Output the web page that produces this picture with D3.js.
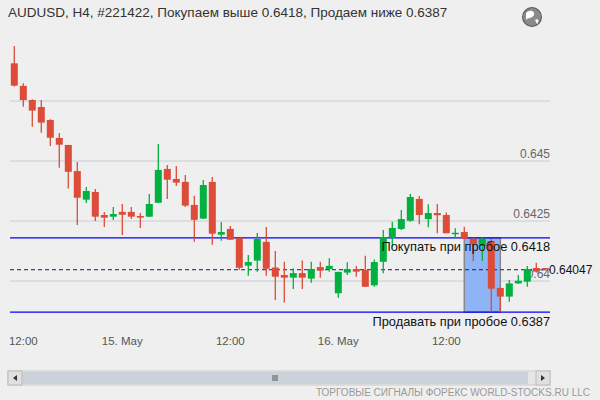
<!DOCTYPE html><html><head><meta charset="utf-8"><script src="https://d3js.org/d3.v7.min.js"></script>
<style>body{margin:0;background:#efefef}svg{font-family:Arial,"Liberation Sans",sans-serif}</style></head><body>
<svg id="c" width="600" height="400"></svg>
<script>
const opens=[.64907,.64813,.64754,.64725,.64671,.64596,.64567,.64458,.64339,.64371,.64275,.64268,.64288,.64288,.64271,.64268,.64326,.64467,.64425,.64413,.64317,.64260,.64413,.64193,.64217,.64179,.64064,.64085,.64163,.64056,.64025,.64014,.64033,.64010,.64058,.64050,.63949,.64035,.64050,.64046,.63982,.64080,.64180,.64217,.64251,.64342,.64258,.64283,.64275,.64195,.64204,.64176,.64146,.64167,.63971,.63935,.63990,.63997,.64054,.64054];
const highs=[.64979,.64824,.64757,.64754,.64674,.64617,.64567,.64496,.64392,.64383,.64288,.64308,.64321,.64308,.64283,.64363,.64571,.64483,.64479,.64442,.64355,.64421,.64433,.64246,.64229,.64180,.64108,.64200,.64225,.64125,.64080,.64053,.64085,.64080,.64080,.64095,.64039,.64078,.64063,.64105,.64090,.64213,.64247,.64296,.64363,.64354,.64320,.64321,.64285,.64220,.64226,.64180,.64182,.64175,.63974,.64004,.64025,.64063,.64076,.64054];
const lows=[.64810,.64726,.64643,.64618,.64563,.64472,.64385,.64233,.64325,.64250,.64225,.64254,.64192,.64258,.64221,.64267,.64325,.64342,.64396,.64308,.64164,.64258,.64151,.64168,.64171,.64047,.64022,.64039,.64022,.63921,.63910,.63967,.63967,.63993,.64014,.64039,.63930,.64025,.64018,.63976,.63976,.64032,.64143,.64213,.64247,.64236,.64224,.64199,.64199,.64178,.64174,.64083,.64083,.63872,.63872,.63914,.63988,.63976,.64035,.64046];
const closes=[.64814,.64754,.64710,.64660,.64597,.64568,.64455,.64347,.64375,.64268,.64264,.64279,.64276,.64268,.64264,.64321,.64463,.64422,.64410,.64314,.64255,.64400,.64197,.64204,.64172,.64055,.64079,.64175,.64051,.64018,.64014,.64033,.64014,.64050,.64043,.64063,.64038,.64050,.64039,.63976,.64079,.64183,.64221,.64258,.64350,.64275,.64283,.64274,.64199,.64201,.64176,.64153,.64176,.63968,.63935,.63990,.64001,.64050,.64039,.64047];
const gridLevels=[0.6475,0.645,0.6425,0.64];
const gridLabels=["","0.645","0.6425","0.64"];
const timeLabels=[[1,"12:00"],[12,"15. May"],[24,"12:00"],[36,"16. May"],[48,"12:00"]];
const boxRange=[50,54];
const buyLevel=0.6418, sellLevel=0.6387, current=0.64047;
const title="AUDUSD, H4, #221422, Покупаем выше 0.6418, Продаем ниже 0.6387";

const svg=d3.select("#c");
const y=d3.scaleLinear().domain([0.64,0.645]).range([281,161]);
const x=d3.scaleLinear().domain([0,59]).range([14.3,545.3]);
const L=10,R=550;
svg.append("text").attr("x",8).attr("y",17).attr("font-size",13.5).attr("fill","#333").text(title);
const g=svg.append("g").attr("transform","translate(532,17)");
g.append("circle").attr("r",10).attr("fill","#555");
g.append("circle").attr("r",9).attr("fill","#eee").attr("opacity",0.35);
g.append("path").attr("d","M-6,-4 C-2,-8 3,-6 2,-2 C0,2 -4,0 -6,3 Z M3,3 C6,1 8,4 5,7 Z").attr("fill","#fff");
gridLevels.forEach((v,i)=>{
 svg.append("line").attr("x1",L).attr("x2",R).attr("y1",y(v)).attr("y2",y(v)).attr("stroke","#c8ccd4");
 svg.append("text").attr("x",R).attr("y",y(v)-3).attr("text-anchor","end").attr("font-size",12).attr("fill","#666").text(gridLabels[i]);
});
timeLabels.forEach(t=>svg.append("text").attr("x",x(t[0])).attr("y",345).attr("text-anchor","middle").attr("font-size",11.5).attr("fill","#555").text(t[1]));
const bx0=x(boxRange[0]), bx1=x(boxRange[1]);
svg.append("rect").attr("x",bx0).attr("y",y(buyLevel)).attr("width",bx1-bx0).attr("height",y(sellLevel)-y(buyLevel)).attr("fill","#8fb4f6").attr("stroke","#888").attr("stroke-width",1.5);
[buyLevel,sellLevel].forEach(v=>svg.append("line").attr("x1",L).attr("x2",R).attr("y1",y(v)).attr("y2",y(v)).attr("stroke","#0000ff").attr("stroke-width",1.2));
svg.append("line").attr("x1",L).attr("x2",R).attr("y1",y(current)).attr("y2",y(current)).attr("stroke","#1a1a66").attr("stroke-dasharray","4,3");
const cw=7;
opens.forEach((o,i)=>{
 const c=closes[i], col=c>=o?"#00b140":"#dd4b39";
 svg.append("line").attr("x1",x(i)).attr("x2",x(i)).attr("y1",y(highs[i])).attr("y2",y(lows[i])).attr("stroke",col).attr("stroke-width",1.3);
 svg.append("rect").attr("x",x(i)-cw/2).attr("width",cw).attr("y",y(Math.max(o,c))).attr("height",Math.max(1.5,Math.abs(y(o)-y(c)))).attr("fill",col);
});
svg.append("text").attr("x",R).attr("y",y(buyLevel)+13).attr("text-anchor","end").attr("font-size",12.8).attr("fill","#111").text("Покупать при пробое "+buyLevel);
svg.append("text").attr("x",R).attr("y",y(sellLevel)+14).attr("text-anchor","end").attr("font-size",12.8).attr("fill","#111").text("Продавать при пробое "+sellLevel);
svg.append("text").attr("x",R-1).attr("y",y(current)+4).attr("font-size",12).attr("fill","#111").text(current);
svg.append("rect").attr("x",8).attr("y",371).attr("width",542).attr("height",14).attr("fill","#e6e6e6").attr("stroke","#ccc");
svg.append("rect").attr("x",22).attr("y",372).attr("width",506).attr("height",12).attr("fill","#ccd2da");
svg.append("rect").attr("x",8).attr("y",371).attr("width",14).attr("height",14).attr("fill","#e0e0e0").attr("stroke","#bbb");
svg.append("rect").attr("x",536).attr("y",371).attr("width",14).attr("height",14).attr("fill","#e0e0e0").attr("stroke","#bbb");
svg.append("path").attr("d","M17,375 L13,378 L17,381 Z M541,375 L545,378 L541,381 Z").attr("fill","#333");
[-2,0,2].forEach(d=>svg.append("line").attr("x1",275+d).attr("x2",275+d).attr("y1",375).attr("y2",381).attr("stroke","#555"));
svg.append("text").attr("x",590).attr("y",396).attr("text-anchor","end").attr("font-size",10).attr("fill","#999").text("ТОРГОВЫЕ СИГНАЛЫ ФОРЕКС WORLD-STOCKS.RU LLC");
</script></body></html>
